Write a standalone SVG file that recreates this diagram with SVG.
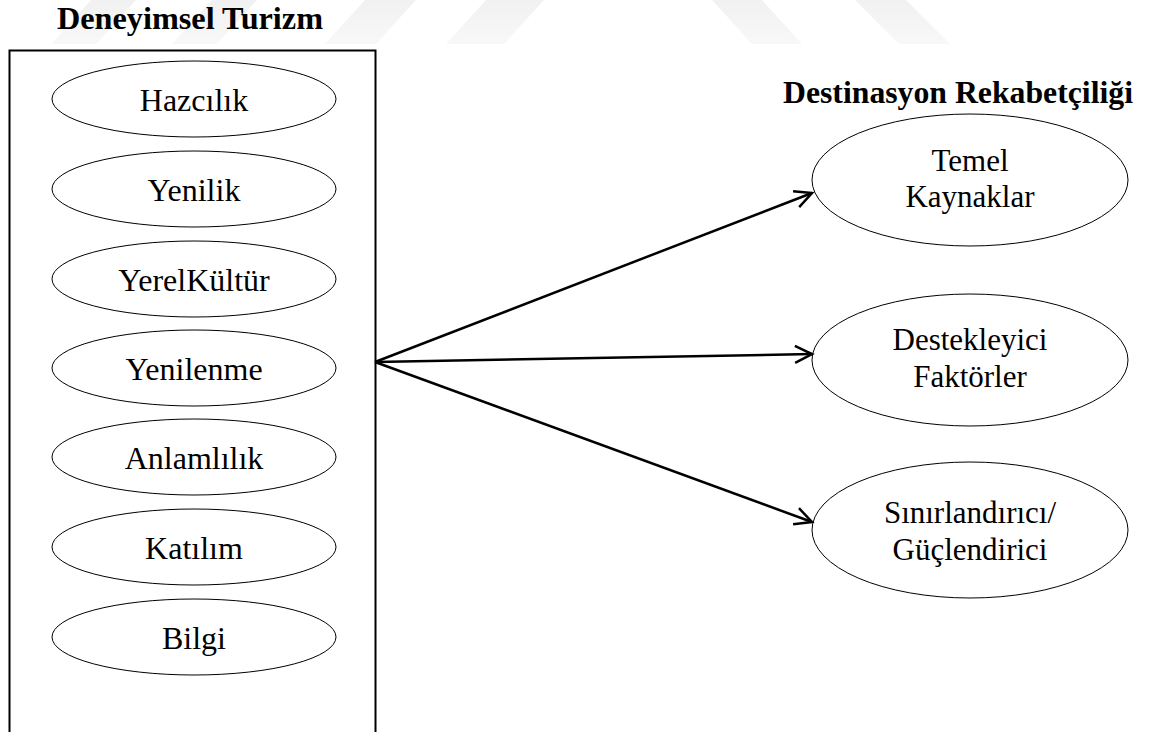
<svg xmlns="http://www.w3.org/2000/svg" width="1160" height="732" viewBox="0 0 1160 732">
  <defs>
    <linearGradient id="mark" x1="0" y1="0" x2="0" y2="1">
      <stop offset="0" stop-color="#f1f1f1"/>
      <stop offset="1" stop-color="#f8f8f8"/>
    </linearGradient>
    <marker id="open-arrow" markerUnits="userSpaceOnUse" viewBox="-20 -12 24 24" markerWidth="24" markerHeight="24" refX="0" refY="0" orient="auto">
      <path d="M -17 -8.5 L 0 0 L -17 8.5" fill="none" stroke="#000" stroke-width="2.5" stroke-linejoin="miter"/>
    </marker>
    <style>
      .title { font-family: "Liberation Serif", "Times New Roman", serif; font-weight: bold; font-size: 32px; fill: #000; }
      .label { font-family: "Liberation Serif", "Times New Roman", serif; font-size: 32px; fill: #000; text-anchor: middle; }
      .label.r { font-size: 31px; }
      .oval { fill: #fff; stroke: #000; stroke-width: 1; }
      .frame { fill: none; stroke: #000; stroke-width: 2; }
      .link { fill: none; stroke: #000; stroke-width: 2.5; marker-end: url(#open-arrow); }
    </style>
  </defs>

  <rect width="1160" height="732" fill="#fff"/>

  <!-- faint background stripes along the top edge -->
  <g id="backdrop" fill="url(#mark)">
    <polygon points="51,44 96,44 136,0 91,0"/>
    <polygon points="172,44 217,44 257,0 212,0"/>
    <polygon points="325,44 376,44 416,0 365,0"/>
    <polygon points="446,44 504,44 544,0 486,0"/>
    <polygon points="752,44 802,44 762,0 712,0"/>
    <polygon points="899,44 950,44 906,0 855,0"/>
  </g>

  <!-- left group: experiential tourism dimensions -->
  <g id="experiential-tourism">
    <text class="title" x="57" y="29" textLength="266" lengthAdjust="spacingAndGlyphs">Deneyimsel Turizm</text>
    <rect class="frame" x="9.5" y="50.5" width="366" height="700"/>
  </g>

  <g id="hazcilik">
    <ellipse class="oval" cx="194" cy="99" rx="142" ry="38"/>
    <text class="label" x="194" y="111">Hazcılık</text>
  </g>
  <g id="yenilik">
    <ellipse class="oval" cx="194" cy="189" rx="142" ry="38"/>
    <text class="label" x="194" y="201">Yenilik</text>
  </g>
  <g id="yerel-kultur">
    <ellipse class="oval" cx="194" cy="279" rx="142" ry="38"/>
    <text class="label" x="194" y="291">YerelKültür</text>
  </g>
  <g id="yenilenme">
    <ellipse class="oval" cx="194" cy="368" rx="142" ry="38"/>
    <text class="label" x="194" y="380">Yenilenme</text>
  </g>
  <g id="anlamlilik">
    <ellipse class="oval" cx="194" cy="457" rx="142" ry="38"/>
    <text class="label" x="194" y="469">Anlamlılık</text>
  </g>
  <g id="katilim">
    <ellipse class="oval" cx="194" cy="547" rx="142" ry="38"/>
    <text class="label" x="194" y="559">Katılım</text>
  </g>
  <g id="bilgi">
    <ellipse class="oval" cx="194" cy="637" rx="142" ry="38"/>
    <text class="label" x="194" y="649">Bilgi</text>
  </g>

  <!-- right group: destination competitiveness -->
  <g id="destination-competitiveness">
    <text class="title" x="783" y="103" textLength="350" lengthAdjust="spacingAndGlyphs">Destinasyon Rekabetçiliği</text>
  </g>

  <g id="temel-kaynaklar">
    <ellipse class="oval" cx="970" cy="180" rx="158" ry="66"/>
    <text class="label r" x="970" y="171">Temel</text>
    <text class="label r" x="970" y="207">Kaynaklar</text>
  </g>
  <g id="destekleyici-faktorler">
    <ellipse class="oval" cx="970" cy="360" rx="158" ry="66"/>
    <text class="label r" x="970" y="350">Destekleyici</text>
    <text class="label r" x="970" y="387">Faktörler</text>
  </g>
  <g id="sinirlandirici">
    <ellipse class="oval" cx="970" cy="530" rx="158" ry="68"/>
    <text class="label r" x="970" y="523">Sınırlandırıcı/</text>
    <text class="label r" x="970" y="560">Güçlendirici</text>
  </g>

  <!-- connectors from the left frame to each factor -->
  <g id="connectors">
    <line class="link" x1="375" y1="362" x2="812" y2="193"/>
    <line class="link" x1="375" y1="362" x2="812" y2="354"/>
    <line class="link" x1="375" y1="362" x2="812" y2="522"/>
  </g>
</svg>
